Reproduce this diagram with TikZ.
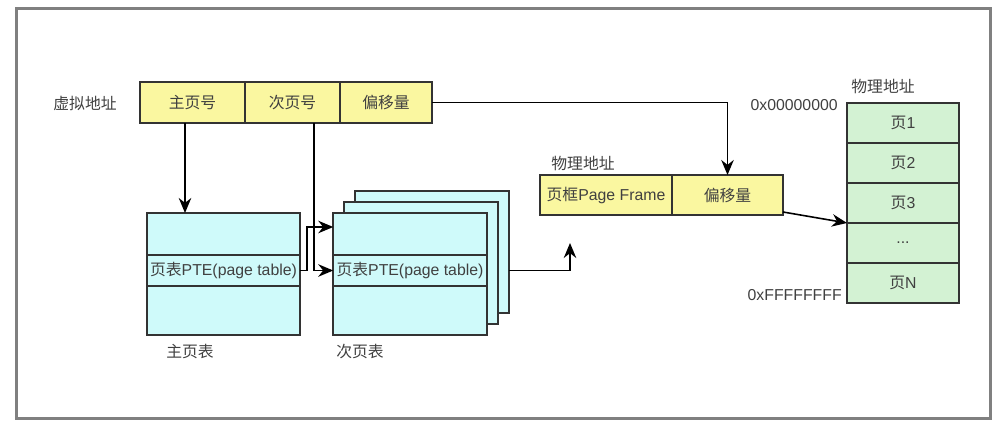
\documentclass[tikz,border=0pt]{standalone}
\usepackage{fontspec}
\setmainfont{Liberation Sans}
\newfontfamily\cjk{Noto Sans CJK SC}
\usetikzlibrary{arrows.meta,positioning}

\definecolor{addrfill}{HTML}{FAF7A0}
\definecolor{tabfill}{HTML}{CFFAFA}
\definecolor{memfill}{HTML}{D3F2D3}
\definecolor{txtgray}{HTML}{404040}

\tikzset{
  cell/.style={draw=black!80, line width=0.9pt, inner sep=0pt, outer sep=0pt, text=txtgray},
  addr/.style={cell, fill=addrfill, minimum height=8.2mm},
  tab/.style={cell, fill=tabfill, minimum width=30.7mm},
  mem/.style={cell, fill=memfill, minimum width=22.4mm, minimum height=8mm},
  lbl/.style={text=txtgray, inner sep=0pt},
  link/.style={line width=0.9pt, -{Stealth[length=3mm,width=2.5mm]}},
}

\begin{document}
\begin{tikzpicture}[x=0.2mm, y=-0.2mm, every node/.style={font=\fontsize{9pt}{11pt}\selectfont}]

    \useasboundingbox (0,0) rectangle (1000,434);

    % outer frame
    \draw[black!50, line width=0.6mm] (16,9) rectangle (990,418);

    % virtual address
    \node[lbl] (vlabel) at (85,103) {\cjk 虚拟地址};
    \node[addr, minimum width=21mm] (vmajor) at (192.5,102.5) {\cjk 主页号};
    \node[addr, minimum width=19mm, right=0mm of vmajor] (vminor) {\cjk 次页号};
    \node[addr, minimum width=18.4mm, right=0mm of vminor] (voff) {\cjk 偏移量};

    % main page table
    \node[tab, minimum height=8.4mm] (mtop) at (223.5,234) {};
    \node[tab, minimum height=6.2mm, below=0mm of mtop] (mpte) {{\cjk 页表}PTE(page table)};
    \node[tab, minimum height=9.8mm, below=0mm of mpte] (mbot) {};
    \node[lbl] (mlabel) at (190,352) {\cjk 主页表};

    % secondary page tables
    \node[tab, minimum height=24.4mm] (sback2) at (432,252) {};
    \node[tab, minimum height=24.4mm] (sback1) at (421,263) {};
    \node[tab, minimum height=8.4mm] (stop) at (410,234) {};
    \node[tab, minimum height=6.2mm, below=0mm of stop] (spte) {{\cjk 页表}PTE(page table)};
    \node[tab, minimum height=9.8mm, below=0mm of spte] (sbot) {};
    \node[lbl] (slabel) at (360,352) {\cjk 次页表};

    % physical address
    \node[lbl] (plabel) at (583,163) {\cjk 物理地址};
    \node[addr, minimum width=26.4mm, minimum height=8mm] (pframe) at (606,195) {{\cjk 页框}Page Frame};
    \node[addr, minimum width=22.2mm, minimum height=8mm, right=0mm of pframe] (poff) {\cjk 偏移量};

    % physical memory
    \node[lbl] (memlabel) at (883,86) {\cjk 物理地址};
    \foreach \i/\t in {1/1, 2/2, 3/3, 5/N}
        \node[mem] (pg\i) at (903,83+40*\i) {{\cjk 页}\t};
    \node[mem] (pg4) at (903,243) {...};
    \node[lbl, anchor=east] (lowaddr) at (838,105) {0x00000000};
    \node[lbl, anchor=east] (highaddr) at (842,295) {0xFFFFFFFF};

    % links
    \draw[link] ([xshift=-1.5mm]vmajor.south) -- ([xshift=-1.5mm]vmajor.south |- mtop.north);
    \draw[link] ([xshift=4.3mm]vminor.south) |- (spte.west);
    \draw[link] (mpte.east) -- ++(1.4mm,0) |- ([yshift=1.4mm]stop.west);
    \draw[link] (voff.east) -| (poff.north);
    \coordinate (pin) at (570,243);
    \draw[link] (spte.east -| sback2.east) -| (pin);
    \draw[link] ([yshift=0.6mm]poff.south east) -- (pg3.south west);

\end{tikzpicture}
\end{document}
